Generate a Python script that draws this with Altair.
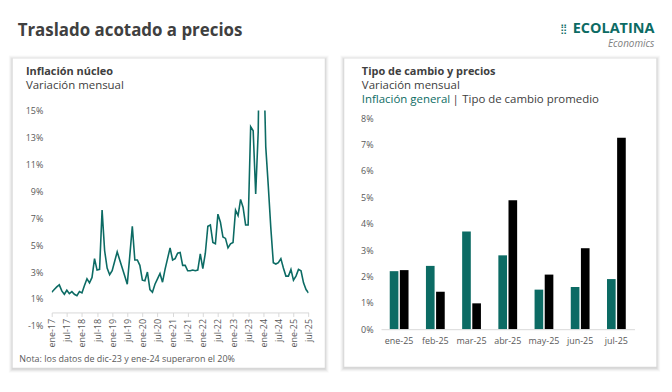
import altair as alt
import pandas as pd

# ---------------- data ----------------
abbr = ["ene", "feb", "mar", "abr", "may", "jun", "jul", "ago", "sep", "oct", "nov", "dic"]
months = [f"{m}-{y}" for y in range(17, 26) for m in abbr][:103]   # ene-17 .. jul-25

core = [
    1.5, 1.7, 1.9, 2.05, 1.6, 1.35, 1.65, 1.4, 1.55, 1.35, 1.25, 1.55,   # 2017
    1.45, 2.0, 2.5, 2.2, 2.6, 4.0, 3.15, 3.2, 7.6, 4.6, 3.3, 2.8,        # 2018
    3.1, 3.8, 4.5, 3.9, 3.3, 2.7, 2.1, 4.2, 6.4, 3.9, 3.9, 3.5,          # 2019
    2.4, 2.35, 3.0, 1.7, 1.5, 2.1, 2.5, 2.9, 2.25, 3.2, 4.0, 4.8,        # 2020
    3.9, 4.0, 4.4, 4.45, 3.5, 3.5, 3.1, 3.1, 3.15, 3.1, 3.15, 4.35,      # 2021
    3.25, 4.4, 6.4, 6.5, 5.2, 5.1, 7.3, 6.7, 5.6, 5.5, 4.8, 5.1,         # 2022
    5.2, 7.6, 7.2, 8.4, 7.8, 6.5, 6.5, 13.8, 13.5, 8.8, 13.4, 28.3,      # 2023
    20.2, 12.3, 9.4, 6.3, 3.7, 3.6, 3.7, 4.0, 3.3, 2.7, 2.7, 3.2,        # 2024
    2.4, 2.7, 3.2, 3.1, 2.2, 1.7, 1.45,                                  # 2025
]

bar_months = ["ene-25", "feb-25", "mar-25", "abr-25", "may-25", "jun-25", "jul-25"]
inflacion_general = [2.2, 2.4, 3.7, 2.8, 1.5, 1.6, 1.9]
tipo_cambio = [2.24, 1.42, 0.98, 4.89, 2.07, 3.07, 7.26]

y_ticks_left = [-1, 1, 3, 5, 7, 9, 11, 13, 15]
y_ticks_right = [0, 1, 2, 3, 4, 5, 6, 7, 8]
x_tick_idx = list(range(0, 103, 6))
x_tick_labels = [months[i] for i in x_tick_idx]

line_df = pd.DataFrame({"i": list(range(len(core))), "mes": months, "v": core})
bar_df = pd.DataFrame({"mes": bar_months, "inf": inflacion_general, "tc": tipo_cambio})

# ---------------- style ----------------
TEAL = "#0c6b64"
DARK = "#404040"
GRAY = "#595959"
FONT = "Open Sans"
AX_LINE = "#d9d9d9"

LW, LH = 258.4, 216.7      # left plot area
RW, RH = 255.0, 220.0      # right plot area
LX0, TOP = 41.3, 101.3     # left plot origin in chart coordinates
RX0 = 372.0                # right plot origin


def blank():
    return alt.Chart(alt.Data(values=[{}]))


def rect(x1, x2, y1, y2, color, opacity=1.0):
    return blank().mark_rect(color=color, opacity=opacity).encode(
        x=alt.value(x1), x2=alt.value(x2), y=alt.value(y1), y2=alt.value(y2))


def text(t, x, y, size, color=DARK, weight="normal", align="left",
         baseline="alphabetic", style="normal"):
    return blank().mark_text(text=t, fontSize=size, color=color, fontWeight=weight,
                             align=align, baseline=baseline, font=FONT,
                             fontStyle=style).encode(x=alt.value(x), y=alt.value(y))


def card(x1, x2, y1, y2):
    layers = []
    for d, op in [(4, 0.025), (3, 0.035), (2, 0.045), (1, 0.06)]:
        layers.append(rect(x1 - d, x2 + d, y1 - d + 1, y2 + d + 1, "#000000", op))
    layers.append(rect(x1, x2, y1, y2, "#ffffff"))
    return layers


# ---------------- left panel ----------------
lx = lambda cx: cx - LX0
ly = lambda cy: cy - TOP

label_expr = "[" + ",".join(f"'{l}'" for l in x_tick_labels) + "][datum.value/6]"

line = alt.Chart(line_df).mark_line(clip=True, strokeWidth=1.6, color=TEAL).encode(
    x=alt.X("i:Q", scale=alt.Scale(domain=[0, 102], nice=False, zero=False),
            axis=alt.Axis(values=x_tick_idx, labelExpr=label_expr, labelAngle=270,
                          title=None, grid=False, offset=-LH / 16,
                          domainColor=AX_LINE, tickColor=AX_LINE, tickSize=4,
                          labelPadding=2, labelFontSize=9, labelColor=GRAY,
                          labelOverlap=False, labelFont=FONT, zindex=1)),
    y=alt.Y("v:Q", scale=alt.Scale(domain=[-1, 15], nice=False, zero=False),
            axis=alt.Axis(values=y_ticks_left, labelExpr="datum.value + '%'",
                          title=None, grid=False, domain=False, ticks=False,
                          labelPadding=9, labelFontSize=9, labelColor=GRAY,
                          labelOverlap=False, labelFont=FONT, zindex=1)),
    tooltip=["mes:N", "v:Q"],
)

left_layers = [rect(lx(0), lx(656), ly(0), ly(376), "#ffffff")]
left_layers += card(lx(2), lx(316), ly(49), ly(360))
left_layers += [
    line,
    text("Traslado acotado a precios", lx(7), ly(21.5), 17, DARK, "bold", baseline="middle"),
    text("Inflación núcleo", lx(15.3), ly(66), 11, DARK, "bold"),
    text("Variación mensual", lx(15.3), ly(80), 11.5, DARK),
    text("Nota: los datos de dic-23 y ene-24 superaron el 20%", lx(8.7), ly(351),
         9, GRAY, baseline="middle"),
]
left = alt.layer(*left_layers).properties(width=LW, height=LH)

# ---------------- right panel ----------------
rx = lambda cx: cx - RX0
ry = lambda cy: cy - TOP

xscale = alt.Scale(domain=bar_months, paddingInner=0.5, paddingOuter=0.25)
yscale = alt.Scale(domain=[0, 8 * RH / 212.3], nice=False)
x_axis_r = alt.Axis(title=None, labelAngle=0, ticks=False, domainColor=AX_LINE,
                    labelPadding=7, labelFontSize=9, labelColor=GRAY,
                    labelOverlap=False, labelFont=FONT, zindex=1)
y_axis_r = alt.Axis(values=y_ticks_right, labelExpr="datum.value + '%'",
                    title=None, grid=False, domain=False, ticks=False,
                    labelPadding=8, labelFontSize=9, labelColor=GRAY,
                    labelOverlap=False, labelFont=FONT, zindex=1)

bars_inf = alt.Chart(bar_df).mark_bar(width=8.7, xOffset=-5.1, color=TEAL).encode(
    x=alt.X("mes:N", scale=xscale, sort=bar_months, axis=x_axis_r),
    y=alt.Y("inf:Q", scale=yscale, axis=y_axis_r),
    tooltip=["mes:N", "inf:Q"],
)
bars_tc = alt.Chart(bar_df).mark_bar(width=8.7, xOffset=5.1, color="#000000").encode(
    x=alt.X("mes:N", scale=xscale, sort=bar_months, axis=x_axis_r),
    y=alt.Y("tc:Q", scale=yscale, axis=y_axis_r),
    tooltip=["mes:N", "tc:Q"],
)

right_layers = card(rx(335), rx(649), ry(49), ry(359))
right_layers += [
    bars_inf,
    bars_tc,
    text("Tipo de cambio y precios", rx(352.7), ry(66), 11, DARK, "bold"),
    text("Variación mensual", rx(352.7), ry(80), 11.5, DARK),
    text("Inflación general", rx(352.7), ry(93.7), 11.5, TEAL),
    text("|", rx(444), ry(93.7), 11.5, DARK),
    text("Tipo de cambio promedio", rx(453.7), ry(93.7), 11.5, DARK),
    text("ECOLATINA", rx(647), ry(19), 14.5, TEAL, "bold", align="right", baseline="middle"),
    text("⣿", rx(559), ry(19), 10, TEAL, align="right", baseline="middle"),
    text("Economics", rx(647), ry(34), 10, "#808080", align="right",
         baseline="middle", style="italic"),
]
right = alt.layer(*right_layers).properties(width=RW, height=RH)

chart = alt.hconcat(left, right, spacing=RX0 - LX0 - LW, bounds="flush", padding=0,
                    background="#ffffff").configure_view(stroke=None).configure(font=FONT)

chart.save("out.html", embed_options={"renderer": "svg", "actions": False})
